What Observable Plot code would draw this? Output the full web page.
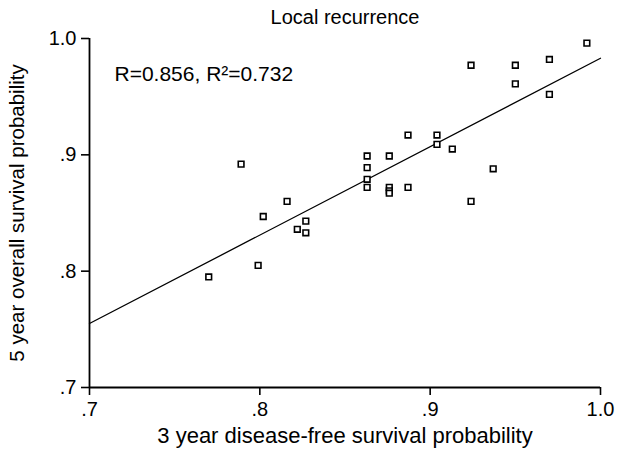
<!DOCTYPE html>
<html>
<head>
<meta charset="utf-8">
<script src="https://cdn.jsdelivr.net/npm/d3@7"></script>
<script src="https://cdn.jsdelivr.net/npm/@observablehq/plot@0.6"></script>
<style>
  html, body { margin: 0; padding: 0; background: #fff; }
  svg { font-family: "Liberation Sans", Arial, sans-serif; }
</style>
</head>
<body>
<div id="chart"></div>
<script>
// 3-year disease-free survival (x) vs 5-year overall survival (y)
const dfs = [0.992, 0.924, 0.950, 0.970, 0.950, 0.970, 0.887, 0.904, 0.904, 0.913,
             0.863, 0.876, 0.863, 0.863, 0.863, 0.876, 0.876, 0.876, 0.887, 0.937,
             0.924, 0.789, 0.816, 0.802, 0.827, 0.822, 0.827, 0.799, 0.770];
const os  = [0.996, 0.977, 0.977, 0.982, 0.961, 0.952, 0.917, 0.917, 0.909, 0.905,
             0.899, 0.899, 0.889, 0.879, 0.872, 0.872, 0.869, 0.867, 0.872, 0.888,
             0.860, 0.892, 0.860, 0.847, 0.843, 0.836, 0.833, 0.805, 0.795];
// regression line endpoints
const regX = [0.7, 1.0];
const regY = [0.755, 0.983];
const xTicks = [0.7, 0.8, 0.9, 1.0];
const yTicks = [0.7, 0.8, 0.9, 1.0];
const titleText = ["Local recurrence"];
const statText = ["R=0.856, R\u00B2=0.732"];
const xLabel = ["3 year disease-free survival probability"];
const yLabel = ["5 year overall survival probability"];

const points = dfs.map((x, i) => ({x, y: os[i]}));
const reg = regX.map((x, i) => ({x, y: regY[i]}));
const fmt = d => d === 1 ? "1.0" : d3.format(".1f")(d).replace(/^0/, "");

const chart = Plot.plot({
  width: 617,
  height: 455,
  marginLeft: 89,
  marginRight: 17,
  marginTop: 38,
  marginBottom: 68,
  style: {fontFamily: "'Liberation Sans', Arial, sans-serif", background: "#fff", color: "#000"},
  x: {domain: [0.7, 1.0]},
  y: {domain: [0.7, 1.0]},
  marks: [
    Plot.axisX(xTicks, {tickSize: 8, tickPadding: 6, tickFormat: fmt, fontSize: 20, strokeWidth: 1.6, label: null}),
    Plot.axisY(yTicks, {tickSize: 8, tickPadding: 5, tickFormat: fmt, fontSize: 20, strokeWidth: 1.6, label: null}),
    Plot.ruleY([0.7], {strokeWidth: 1.8}),
    Plot.ruleX([0.7], {strokeWidth: 1.8}),
    Plot.line(reg, {x: "x", y: "y", stroke: "#000", strokeWidth: 1.3}),
    Plot.dot(points, {x: "x", y: "y", symbol: "square", r: 3.2, stroke: "#000", fill: "#fff", strokeWidth: 1.6}),
    Plot.text(titleText, {text: d => d, frameAnchor: "top", dy: -29, fontSize: 20, fill: "#000"}),
    Plot.text(statText, {text: d => d, frameAnchor: "top-left", textAnchor: "start", dx: 25, dy: 28, fontSize: 21, fill: "#000"}),
    Plot.text(xLabel, {text: d => d, frameAnchor: "bottom", dy: 55, fontSize: 22, fill: "#000"}),
    Plot.text(yLabel, {text: d => d, frameAnchor: "left", textAnchor: "middle", rotate: -90, dx: -72, fontSize: 20.5, fill: "#000"})
  ]
});
document.getElementById("chart").appendChild(chart);
</script>
</body>
</html>
